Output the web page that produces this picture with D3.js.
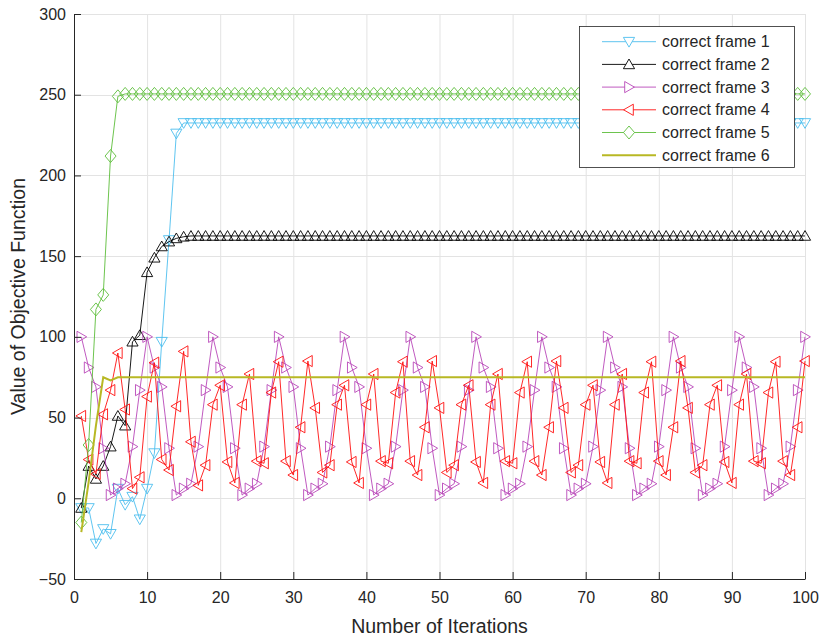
<!DOCTYPE html>
<html>
<head>
<meta charset="utf-8">
<script src="https://cdn.jsdelivr.net/npm/d3@7/dist/d3.min.js"></script>
<style>
  body { margin: 0; background: #fff; }
  svg { display: block; font-family: "Liberation Sans", Arial, Helvetica, sans-serif; }
</style>
</head>
<body>
<div id="chart"></div>
<script>
const W = 821, H = 637;
const MARGIN = { top: 14, right: 16, bottom: 58, left: 74 };

// iterations 1..100
const iterations = d3.range(1, 101);

const xTicks = [0, 10, 20, 30, 40, 50, 60, 70, 80, 90, 100];
const yTicks = [-50, 0, 50, 100, 150, 200, 250, 300];

const frame1 = [
  -6, -6, -28, -19, -22, 6, -4, 1, -13, 6,
  28, 97, 160, 226, 232.5, 232.5, 232.5, 232.5, 232.5, 232.5,
  232.5, 232.5, 232.5, 232.5, 232.5, 232.5, 232.5, 232.5, 232.5, 232.5,
  232.5, 232.5, 232.5, 232.5, 232.5, 232.5, 232.5, 232.5, 232.5, 232.5,
  232.5, 232.5, 232.5, 232.5, 232.5, 232.5, 232.5, 232.5, 232.5, 232.5,
  232.5, 232.5, 232.5, 232.5, 232.5, 232.5, 232.5, 232.5, 232.5, 232.5,
  232.5, 232.5, 232.5, 232.5, 232.5, 232.5, 232.5, 232.5, 232.5, 232.5,
  232.5, 232.5, 232.5, 232.5, 232.5, 232.5, 232.5, 232.5, 232.5, 232.5,
  232.5, 232.5, 232.5, 232.5, 232.5, 232.5, 232.5, 232.5, 232.5, 232.5,
  232.5, 232.5, 232.5, 232.5, 232.5, 232.5, 232.5, 232.5, 232.5, 232.5
];

const frame2 = [
  -6, 20, 12, 20, 32, 51, 45, 97, 101, 140,
  149, 156, 159, 161, 162, 162.5, 162.5, 162.5, 162.5, 162.5,
  162.5, 162.5, 162.5, 162.5, 162.5, 162.5, 162.5, 162.5, 162.5, 162.5,
  162.5, 162.5, 162.5, 162.5, 162.5, 162.5, 162.5, 162.5, 162.5, 162.5,
  162.5, 162.5, 162.5, 162.5, 162.5, 162.5, 162.5, 162.5, 162.5, 162.5,
  162.5, 162.5, 162.5, 162.5, 162.5, 162.5, 162.5, 162.5, 162.5, 162.5,
  162.5, 162.5, 162.5, 162.5, 162.5, 162.5, 162.5, 162.5, 162.5, 162.5,
  162.5, 162.5, 162.5, 162.5, 162.5, 162.5, 162.5, 162.5, 162.5, 162.5,
  162.5, 162.5, 162.5, 162.5, 162.5, 162.5, 162.5, 162.5, 162.5, 162.5,
  162.5, 162.5, 162.5, 162.5, 162.5, 162.5, 162.5, 162.5, 162.5, 162.5
];

const frame3 = [
  100, 81, 69, 31, 2, 6, 9, 32, 67,
  100, 81, 69, 31, 2, 6, 9, 32, 67,
  100, 81, 69, 31, 2, 6, 9, 32, 67,
  100, 81, 69, 31, 2, 6, 9, 32, 67,
  100, 81, 69, 31, 2, 6, 9, 32, 67,
  100, 81, 69, 31, 2, 6, 9, 32, 67,
  100, 81, 69, 31, 2, 6, 9, 32, 67,
  100, 81, 69, 31, 2, 6, 9, 32, 67,
  100, 81, 69, 31, 2, 6, 9, 32, 67,
  100, 81, 69, 31, 2, 6, 9, 32, 67,
  100, 81, 69, 31, 2, 6, 9, 32, 67,
  100
];

const frame4 = [
  51, 24, 15, 52, 67, 90, 55, 6, 13, 63, 84, 24, 17.5, 57, 91, 35, 8,
  20.5, 58, 70,
  22.5, 9.5, 58, 77, 23, 21.7, 65.5, 84.6, 23, 14.4, 44, 85, 56, 16, 20.5, 58, 70,
  22.5, 9.5, 58, 77, 23, 21.7, 65.5, 84.6, 23, 14.4, 44, 85, 56, 16, 20.5, 58, 70,
  22.5, 9.5, 58, 77, 23, 21.7, 65.5, 84.6, 23, 14.4, 44, 85, 56, 16, 20.5, 58, 70,
  22.5, 9.5, 58, 77, 23, 21.7, 65.5, 84.6, 23, 14.4, 44, 85, 56, 16, 20.5, 58, 70,
  22.5, 9.5, 58, 77, 23, 21.7, 65.5, 84.6, 23, 14.4, 44, 85
];

const frame5 = [
  -15, 33, 117, 126, 212, 249, 250.5, 250.5, 250.5, 250.5,
  250.5, 250.5, 250.5, 250.5, 250.5, 250.5, 250.5, 250.5, 250.5, 250.5,
  250.5, 250.5, 250.5, 250.5, 250.5, 250.5, 250.5, 250.5, 250.5, 250.5,
  250.5, 250.5, 250.5, 250.5, 250.5, 250.5, 250.5, 250.5, 250.5, 250.5,
  250.5, 250.5, 250.5, 250.5, 250.5, 250.5, 250.5, 250.5, 250.5, 250.5,
  250.5, 250.5, 250.5, 250.5, 250.5, 250.5, 250.5, 250.5, 250.5, 250.5,
  250.5, 250.5, 250.5, 250.5, 250.5, 250.5, 250.5, 250.5, 250.5, 250.5,
  250.5, 250.5, 250.5, 250.5, 250.5, 250.5, 250.5, 250.5, 250.5, 250.5,
  250.5, 250.5, 250.5, 250.5, 250.5, 250.5, 250.5, 250.5, 250.5, 250.5,
  250.5, 250.5, 250.5, 250.5, 250.5, 250.5, 250.5, 250.5, 250.5, 250.5
];

const frame6 = [
  -21, 10, 45, 75, 73, 75, 75, 75, 75, 75,
  75, 75, 75, 75, 75, 75, 75, 75, 75, 75,
  75, 75, 75, 75, 75, 75, 75, 75, 75, 75,
  75, 75, 75, 75, 75, 75, 75, 75, 75, 75,
  75, 75, 75, 75, 75, 75, 75, 75, 75, 75,
  75, 75, 75, 75, 75, 75, 75, 75, 75, 75,
  75, 75, 75, 75, 75, 75, 75, 75, 75, 75,
  75, 75, 75, 75, 75, 75, 75, 75, 75, 75,
  75, 75, 75, 75, 75, 75, 75, 75, 75, 75,
  75, 75, 75, 75, 75, 75, 75, 75, 75, 75
];

const seriesNames = ['correct frame 1', 'correct frame 2', 'correct frame 3',
  'correct frame 4', 'correct frame 5', 'correct frame 6'];
const seriesValues = [frame1, frame2, frame3, frame4, frame5, frame6];
const seriesColors = ['#4dbeee', '#000000', '#b947b9', '#ff1010', '#5cbd3a', '#b8b824'];
const seriesMarkers = ['down', 'up', 'right', 'left', 'diamond', null];
const seriesWidths = [0.9, 0.9, 0.9, 0.9, 0.9, 2];

// marker outlines, centred on the data point
const MARKER_PATHS = {
  up: 'M0,-5.4L5.6,4.3L-5.6,4.3Z',
  down: 'M0,5.4L5.6,-4.3L-5.6,-4.3Z',
  right: 'M5.4,0L-4.3,-5.6L-4.3,5.6Z',
  left: 'M-5.4,0L4.3,-5.6L4.3,5.6Z',
  diamond: 'M0,-6.5L5.5,0L0,6.5L-5.5,0Z'
};

const svg = d3.select('#chart').append('svg')
  .attr('width', W)
  .attr('height', H);

const x = d3.scaleLinear().domain([0, 100]).range([MARGIN.left, W - MARGIN.right]);
const y = d3.scaleLinear().domain([-50, 300]).range([H - MARGIN.bottom, MARGIN.top]);

// Grid
const grid = svg.append('g').attr('class', 'grid');
grid.selectAll('.gx').data(xTicks).enter().append('line')
  .attr('x1', d => x(d) + 0.5).attr('x2', d => x(d) + 0.5)
  .attr('y1', y(-50)).attr('y2', y(300))
  .attr('stroke', '#e3e3e3').attr('stroke-width', 1);
grid.selectAll('.gy').data(yTicks).enter().append('line')
  .attr('x1', x(0)).attr('x2', x(100))
  .attr('y1', d => Math.round(y(d)) + 0.5).attr('y2', d => Math.round(y(d)) + 0.5)
  .attr('stroke', '#e3e3e3').attr('stroke-width', 1);

// Series
const plot = svg.append('g').attr('class', 'series');
seriesValues.forEach((vals, si) => {
  const pts = iterations.map((it, i) => ({ it, v: vals[i] }));
  const line = d3.line().x(d => x(d.it)).y(d => y(d.v));
  const g = plot.append('g');
  g.append('path')
    .datum(pts)
    .attr('fill', 'none')
    .attr('stroke', seriesColors[si])
    .attr('stroke-width', seriesWidths[si])
    .attr('d', line);
  if (seriesMarkers[si]) {
    g.selectAll('path.mk').data(pts).enter().append('path')
      .attr('class', 'mk')
      .attr('d', MARKER_PATHS[seriesMarkers[si]])
      .attr('transform', d => `translate(${x(d.it)},${y(d.v)})`)
      .attr('fill', 'none')
      .attr('stroke', seriesColors[si])
      .attr('stroke-width', 0.9);
  }
});

// Axes (left & bottom only, ticks pointing inward)
const axisColor = '#262626';
const xAxis = svg.append('g')
  .attr('transform', `translate(0,${y(-50)})`)
  .call(d3.axisBottom(x).tickValues(xTicks).tickSizeInner(-7).tickSizeOuter(0).tickPadding(13));
const yAxis = svg.append('g')
  .attr('transform', `translate(${x(0)},0)`)
  .call(d3.axisLeft(y).tickValues(yTicks).tickSizeInner(-7).tickSizeOuter(0).tickPadding(8));

[xAxis, yAxis].forEach(ax => {
  ax.select('.domain').attr('stroke', axisColor).attr('stroke-width', 1);
  ax.selectAll('.tick line').attr('stroke', axisColor);
  ax.selectAll('.tick text')
    .attr('fill', axisColor)
    .attr('font-size', '16px')
    .attr('font-family', '"Liberation Sans", Arial, Helvetica, sans-serif');
});

// Axis titles
svg.append('text')
  .attr('x', (x(0) + x(100)) / 2)
  .attr('y', 633)
  .attr('text-anchor', 'middle')
  .attr('fill', axisColor)
  .attr('font-size', '19.5px')
  .text('Number of Iterations');

svg.append('text')
  .attr('transform', `translate(25,${(y(-50) + y(300)) / 2}) rotate(-90)`)
  .attr('text-anchor', 'middle')
  .attr('fill', axisColor)
  .attr('font-size', '19.5px')
  .text('Value of Objective Function');

// Legend
const LEG = { x: 579, y: 26, w: 215, h: 141, rowH: 22.7, firstRow: 41.7 };
const legend = svg.append('g').attr('class', 'legend');
legend.append('rect')
  .attr('x', LEG.x + 0.5).attr('y', LEG.y + 0.5)
  .attr('width', LEG.w).attr('height', LEG.h)
  .attr('fill', '#fff')
  .attr('stroke', '#262626')
  .attr('stroke-width', 0.8);

seriesNames.forEach((name, si) => {
  const cy = LEG.firstRow + si * LEG.rowH;
  const row = legend.append('g').attr('transform', `translate(0,${cy})`);
  row.append('line')
    .attr('x1', 602).attr('x2', 656)
    .attr('y1', 0).attr('y2', 0)
    .attr('stroke', seriesColors[si])
    .attr('stroke-width', seriesWidths[si]);
  if (seriesMarkers[si]) {
    row.append('path')
      .attr('d', MARKER_PATHS[seriesMarkers[si]])
      .attr('transform', 'translate(629,0)')
      .attr('fill', '#fff')
      .attr('stroke', seriesColors[si])
      .attr('stroke-width', 0.9);
  }
  row.append('text')
    .attr('x', 662)
    .attr('y', 0)
    .attr('dy', '0.35em')
    .attr('fill', '#262626')
    .attr('font-size', '16px')
    .text(name);
});
</script>
</body>
</html>
